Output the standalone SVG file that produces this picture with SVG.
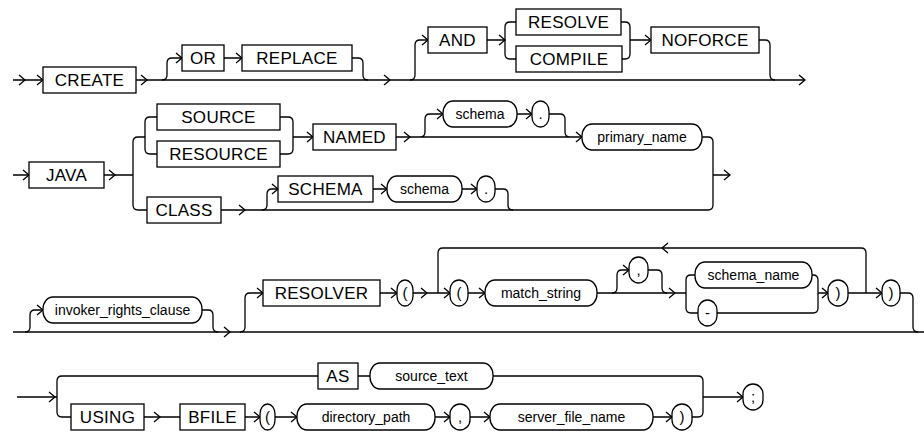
<svg xmlns="http://www.w3.org/2000/svg" width="924" height="434" viewBox="0 0 924 434">
<style>
.ln{fill:none;stroke:#000;stroke-width:1.3}
.bx{fill:#fff;stroke:#000;stroke-width:1.3}
.t{font-family:"Liberation Sans",Arial,sans-serif;font-size:17px;letter-spacing:0.3px;text-anchor:middle;fill:#000}
.o{font-family:"Liberation Sans",Arial,sans-serif;font-size:14px;text-anchor:middle;fill:#000}
.c{font-family:"Liberation Sans",Arial,sans-serif;font-size:15px;text-anchor:middle;fill:#000}
</style>
<defs>
<path id="a" d="M-6,-5 L0,0 L-6,5" fill="none" stroke="#000" stroke-width="1.3"/>
</defs>
<rect width="924" height="434" fill="#fff"/>
<g id="connectors" class="ln">
<!-- row 1 -->
<path d="M13,80 H43 M136,80 H805"/>
<path d="M162,80 q5,0 5,-5 V63 q0,-5 5,-5 H182 M224,58 H242 M352,58 H358 q5,0 5,5 V75 q0,5 5,5"/>
<path d="M410,80 q5,0 5,-5 V45 q0,-5 5,-5 H428 M487,40 H505 M505,27 V54 M505,27 q0,-5 5,-5 H516 M505,54 q0,5 5,5 H516"/>
<path d="M621,22 H625 q5,0 5,5 V54 q0,5 -5,5 H622 M630,40 H651 M759,40 H765 q5,0 5,5 V75 q0,5 5,5"/>
<!-- row 2 -->
<path d="M13,175 H29 M104,175 H133 M133,142 V205 M133,142 q0,-5 5,-5 H145 M133,205 q0,5 5,5 H147"/>
<path d="M145,122 V149 M145,122 q0,-5 5,-5 H157 M145,149 q0,5 5,5 H157"/>
<path d="M280,117 H288 q5,0 5,5 V149 q0,5 -5,5 H280 M293,137 H313"/>
<path d="M396,137 H582 M420,137 q5,0 5,-5 V119 q0,-5 5,-5 H443 M517,114 H532 M549,114 H560 q5,0 5,5 V132 q0,5 5,5"/>
<path d="M702,137 H708 q5,0 5,5 V205 q0,5 -5,5 H221 M713,175 H730"/>
<path d="M262,210 q5,0 5,-5 V194 q0,-5 5,-5 H278 M373,189 H387 M462,189 H477 M495,189 H503 q5,0 5,5 V205 q0,5 5,5"/>
<!-- row 3 -->
<path d="M13,332 H924"/>
<path d="M25,332 q5,0 5,-5 V315 q0,-5 5,-5 H43 M202,310 H208 q5,0 5,5 V327 q0,5 5,5"/>
<path d="M240,332 q5,0 5,-5 V298 q0,-5 5,-5 H263 M380,293 H397 M413,293 H450 M468,293 H485 M597,293 H686"/>
<path d="M612,293 q5,0 5,-5 V275 q0,-5 5,-5 H629 M648,270 H657 q5,0 5,5 V288 q0,5 5,5"/>
<path d="M686,280 V308 M686,280 q0,-5 5,-5 H695 M686,308 q0,5 5,5 H698"/>
<path d="M812,275 H813 q5,0 5,5 V308 q0,5 -5,5 H717 M818,293 H828 M848,293 H882 M900,293 H908 q5,0 5,5 V327 q0,5 5,5"/>
<path d="M866,293 V253 q0,-5 -5,-5 H443 q-5,0 -5,5 V293"/>
<!-- row 4 -->
<path d="M17,397 H57 M57,381 V412 M57,381 q0,-5 5,-5 H318 M57,412 q0,5 5,5 H71"/>
<path d="M358,376 H370 M493,376 H698 q5,0 5,5 V412 q0,5 -5,5 H692 M703,397 H743"/>
<path d="M144,417 H180 M245,417 H260 M275,417 H297 M435,417 H450 M470,417 H490 M653,417 H672"/>
<!-- arrowheads -->
<use href="#a" x="25" y="80"/><use href="#a" x="43" y="80"/><use href="#a" x="147" y="80"/>
<use href="#a" x="182" y="58"/><use href="#a" x="242" y="58"/><use href="#a" x="390" y="80"/>
<use href="#a" x="428" y="40"/><use href="#a" x="505" y="40"/><use href="#a" x="651" y="40"/>
<use href="#a" x="805" y="80"/>
<use href="#a" x="29" y="175"/><use href="#a" x="115" y="175"/><use href="#a" x="313" y="137"/>
<use href="#a" x="410" y="137"/><use href="#a" x="443" y="114"/><use href="#a" x="532" y="114"/>
<use href="#a" x="582" y="137"/><use href="#a" x="730" y="175"/><use href="#a" x="245" y="210"/>
<use href="#a" x="278" y="189"/><use href="#a" x="387" y="189"/><use href="#a" x="477" y="189"/>
<use href="#a" x="43" y="310"/><use href="#a" x="230" y="332"/><use href="#a" x="263" y="293"/>
<use href="#a" x="397" y="293"/><use href="#a" x="427" y="293"/><use href="#a" x="450" y="293"/>
<use href="#a" x="485" y="293"/><use href="#a" x="629" y="270"/><use href="#a" x="675" y="293"/>
<use href="#a" x="828" y="293"/><use href="#a" x="882" y="293"/>
<use href="#a" transform="translate(662,248) rotate(180)"/>
<use href="#a" x="55" y="397"/><use href="#a" x="160" y="417"/><use href="#a" x="260" y="417"/>
<use href="#a" x="297" y="417"/><use href="#a" x="450" y="417"/><use href="#a" x="490" y="417"/>
<use href="#a" x="672" y="417"/><use href="#a" x="743" y="397"/>
</g>
<!-- row 1 nodes -->
<g id="create"><rect class="bx" x="43" y="67" width="93" height="26"/><text class="t" x="89.5" y="86">CREATE</text></g>
<g id="or"><rect class="bx" x="182" y="45" width="42" height="26"/><text class="t" x="203" y="64">OR</text></g>
<g id="replace"><rect class="bx" x="242" y="45" width="110" height="26"/><text class="t" x="297" y="64">REPLACE</text></g>
<g id="and"><rect class="bx" x="428" y="27" width="59" height="26"/><text class="t" x="457.5" y="46">AND</text></g>
<g id="resolve"><rect class="bx" x="516" y="9" width="105" height="26"/><text class="t" x="568.5" y="28">RESOLVE</text></g>
<g id="compile"><rect class="bx" x="516" y="46" width="106" height="26"/><text class="t" x="569" y="65">COMPILE</text></g>
<g id="noforce"><rect class="bx" x="651" y="27" width="108" height="26"/><text class="t" x="705" y="46">NOFORCE</text></g>
<!-- row 2 nodes -->
<g id="java"><rect class="bx" x="29" y="162" width="75" height="26"/><text class="t" x="66.5" y="181">JAVA</text></g>
<g id="source"><rect class="bx" x="157" y="104" width="123" height="26"/><text class="t" x="218.5" y="123">SOURCE</text></g>
<g id="resource"><rect class="bx" x="157" y="141" width="123" height="26"/><text class="t" x="218.5" y="160">RESOURCE</text></g>
<g id="named"><rect class="bx" x="313" y="124" width="83" height="26"/><text class="t" x="354.5" y="143">NAMED</text></g>
<g id="schema1"><rect class="bx" x="443" y="101" width="74" height="26" rx="10" ry="12"/><text class="o" x="480" y="119">schema</text></g>
<g id="dot1"><rect class="bx" x="532" y="101" width="17" height="26" rx="8.5" ry="10"/><text class="c" x="540.5" y="119">.</text></g>
<g id="primary_name"><rect class="bx" x="582" y="124" width="120" height="26" rx="10" ry="12"/><text class="o" x="642" y="142">primary_name</text></g>
<g id="class"><rect class="bx" x="147" y="197" width="74" height="26"/><text class="t" x="184" y="216">CLASS</text></g>
<g id="schema_kw"><rect class="bx" x="278" y="176" width="95" height="26"/><text class="t" x="325.5" y="195">SCHEMA</text></g>
<g id="schema2"><rect class="bx" x="387" y="176" width="75" height="26" rx="10" ry="12"/><text class="o" x="424.5" y="194">schema</text></g>
<g id="dot2"><rect class="bx" x="477" y="176" width="18" height="26" rx="9" ry="10"/><text class="c" x="486" y="194">.</text></g>
<!-- row 3 nodes -->
<g id="invoker_rights_clause"><rect class="bx" x="43" y="297" width="159" height="26" rx="10" ry="12"/><text class="o" x="122.5" y="315">invoker_rights_clause</text></g>
<g id="resolver"><rect class="bx" x="263" y="280" width="117" height="26"/><text class="t" x="321.5" y="299">RESOLVER</text></g>
<g id="lp1"><rect class="bx" x="397" y="280" width="16" height="26" rx="8" ry="10"/><text class="c" x="405" y="298">(</text></g>
<g id="lp2"><rect class="bx" x="450" y="280" width="18" height="26" rx="9" ry="10"/><text class="c" x="459" y="298">(</text></g>
<g id="match_string"><rect class="bx" x="485" y="280" width="112" height="26" rx="10" ry="12"/><text class="o" x="541" y="298">match_string</text></g>
<g id="comma1"><rect class="bx" x="629" y="257" width="19" height="26" rx="9.5" ry="10"/><text class="c" x="638.5" y="275">,</text></g>
<g id="schema_name"><rect class="bx" x="695" y="262" width="117" height="26" rx="10" ry="12"/><text class="o" x="753.5" y="280">schema_name</text></g>
<g id="dash"><rect class="bx" x="698" y="300" width="19" height="26" rx="9.5" ry="10"/><text class="c" x="707.5" y="318">-</text></g>
<g id="rp1"><rect class="bx" x="828" y="280" width="20" height="26" rx="10" ry="10"/><text class="c" x="838" y="298">)</text></g>
<g id="rp2"><rect class="bx" x="882" y="280" width="18" height="26" rx="9" ry="10"/><text class="c" x="891" y="298">)</text></g>
<!-- row 4 nodes -->
<g id="as"><rect class="bx" x="318" y="363" width="40" height="26"/><text class="t" x="338" y="382">AS</text></g>
<g id="source_text"><rect class="bx" x="370" y="363" width="123" height="26" rx="10" ry="12"/><text class="o" x="431.5" y="381">source_text</text></g>
<g id="using"><rect class="bx" x="71" y="404" width="73" height="26"/><text class="t" x="107.5" y="423">USING</text></g>
<g id="bfile"><rect class="bx" x="180" y="404" width="65" height="26"/><text class="t" x="212.5" y="423">BFILE</text></g>
<g id="lp3"><rect class="bx" x="260" y="404" width="15" height="26" rx="7.5" ry="10"/><text class="c" x="267.5" y="422">(</text></g>
<g id="directory_path"><rect class="bx" x="297" y="404" width="138" height="26" rx="10" ry="12"/><text class="o" x="366" y="422">directory_path</text></g>
<g id="comma2"><rect class="bx" x="450" y="404" width="20" height="26" rx="10" ry="10"/><text class="c" x="460" y="422">,</text></g>
<g id="server_file_name"><rect class="bx" x="490" y="404" width="163" height="26" rx="10" ry="12"/><text class="o" x="571.5" y="422">server_file_name</text></g>
<g id="rp3"><rect class="bx" x="672" y="404" width="20" height="26" rx="10" ry="10"/><text class="c" x="682" y="422">)</text></g>
<g id="semicolon"><rect class="bx" x="743" y="384" width="20" height="26" rx="10" ry="10"/><text class="c" x="753" y="402">;</text></g>
</svg>
